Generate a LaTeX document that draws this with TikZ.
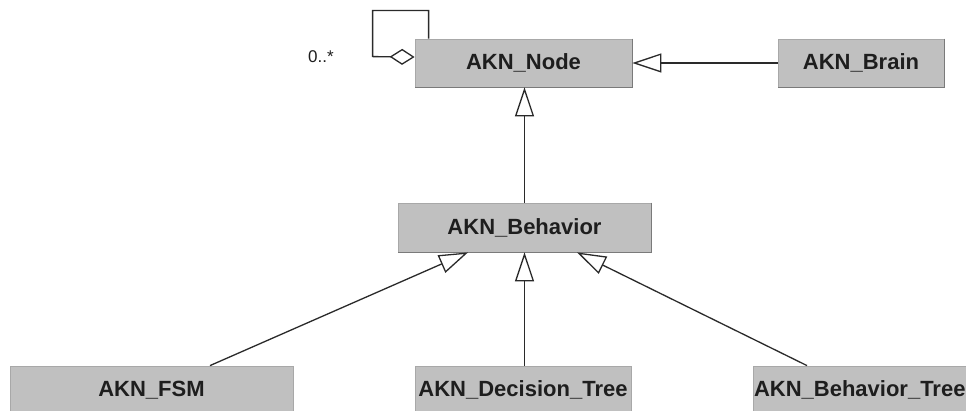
\documentclass[tikz,border=0pt]{standalone}
\usepackage{fontspec}
\setmainfont{Liberation Sans}
\usetikzlibrary{arrows.meta,calc}
\definecolor{boxfill}{HTML}{C0C0C0}
\definecolor{boxedge}{HTML}{A8A8A8}
\definecolor{shadowgray}{HTML}{7A7A7A}
\definecolor{ink}{HTML}{1E1E1E}
\definecolor{wire}{HTML}{2A2A2A}
\tikzset{
  cls/.style={fill=boxfill, draw=boxedge, line width=0.8pt, inner sep=0pt,
    minimum height=48pt, text=ink, font=\fontsize{22}{26}\selectfont\bfseries},
  shadowline/.style={draw=shadowgray, line width=1.2pt},
  gen/.style={draw=wire, line width=1.3pt, -{Triangle[open, length=29pt, width=19pt, line width=1.3pt]}},
  agg/.style={draw=wire, line width=1.3pt, -{Diamond[open, length=25pt, width=16pt, line width=1.3pt]}},
  mult/.style={font=\fontsize{17}{20}\selectfont, text=ink, inner sep=0pt}
}
\newcommand{\shadowedge}[1]{\draw[shadowline] (#1.north east) -- (#1.south east) -- (#1.south west);}
\begin{document}
\begin{tikzpicture}[x=1pt,y=-1pt]
\useasboundingbox (0,0) rectangle (966,411);
\fill[white] (0,0) rectangle (966,411);
\clip (0,0) rectangle (966,411);
% classes
\node[cls, minimum width=217pt] (node) at (523.5,63) {AKN\_Node};
\shadowedge{node}
\node[cls, minimum width=166pt] (brain) at (861,63) {AKN\_Brain};
\shadowedge{brain}
\node[cls, minimum width=253pt, minimum height=49pt] (behav) at (524.5,227.5) {AKN\_Behavior};
\shadowedge{behav}
\node[cls, minimum width=283pt] (fsm) at (151.5,390) {AKN\_FSM};
\node[cls, minimum width=216pt] (dtree) at (523,390) {AKN\_Decision\_Tree};
\node[cls, minimum width=227pt, text width=227pt, align=left] (btree) at (866.5,390) {\hspace*{1pt}AKN\_Behavior\_Tree};
% multiplicity
\node[mult] (multlabel) at (321,57) {0..*};
% self aggregation
\draw[agg] ($(node.north west)+(14,0)$) -- ++(0,-28) -- ++(-56,0) -- ++(0,46) -- ($(node.west)+(0,-6)$);
% generalizations
\draw[gen] (brain.west) -- (node.east);
\draw[gen] (behav.north) -- (behav.north |- node.south);
\draw[gen] ($(fsm.north)+(58.5,0)$) -- ($(behav.south)+(-56.5,0)$);
\draw[gen] (dtree.north -| behav.south) -- (behav.south);
\draw[gen] ($(btree.north)+(-59.5,0)$) -- ($(behav.south)+(52.5,0)$);
\end{tikzpicture}
\end{document}
